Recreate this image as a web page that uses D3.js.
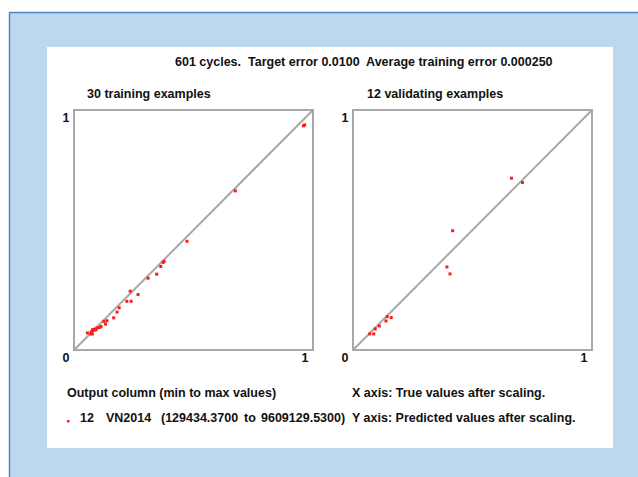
<!DOCTYPE html>
<html>
<head>
<meta charset="utf-8">
<script src="https://cdn.jsdelivr.net/npm/d3@7"></script>
<style>
  body { margin: 0; background: #fff; }
  text { font-family: "Liberation Sans", Arial, sans-serif; font-weight: bold; fill: #111; white-space: pre; }
</style>
</head>
<body>
<div id="chart"></div>
<script>
const width = 638;
const height = 477;

// [true, predicted] after scaling
const trainPoints = [
  [0.965, 0.938], [0.960, 0.934], [0.675, 0.663], [0.473, 0.453],
  [0.377, 0.369], [0.373, 0.365], [0.363, 0.348], [0.346, 0.316],
  [0.310, 0.299], [0.235, 0.245], [0.268, 0.231], [0.221, 0.203],
  [0.239, 0.203], [0.189, 0.176], [0.180, 0.158], [0.166, 0.134],
  [0.138, 0.122], [0.125, 0.119], [0.132, 0.108], [0.113, 0.098],
  [0.107, 0.094], [0.096, 0.092], [0.086, 0.087], [0.082, 0.082],
  [0.078, 0.085], [0.092, 0.084], [0.072, 0.076], [0.070, 0.067],
  [0.077, 0.067], [0.056, 0.071]
];
const validPoints = [
  [0.663, 0.716], [0.709, 0.698], [0.417, 0.497], [0.393, 0.346],
  [0.406, 0.317], [0.143, 0.139], [0.160, 0.135], [0.138, 0.121],
  [0.110, 0.100], [0.093, 0.088], [0.070, 0.067], [0.087, 0.067]
];
const tickValues = [0, 1];
const titleText = "601 cycles.  Target error 0.0100  Average training error 0.000250";
const panelTitles = ["30 training examples", "12 validating examples"];
const footer1 = ["Output column (min to max values)", "X axis: True values after scaling."];
const footer2 = ["12", "VN2014", "(129434.3700", "to", "9609129.5300)", "Y axis: Predicted values after scaling."];

const fs = "12.5px";

const svg = d3.select("#chart").append("svg")
  .attr("width", width)
  .attr("height", height);

// blue frame around the white card
svg.append("rect").attr("x", 9).attr("y", 12).attr("width", width - 9).attr("height", height - 12)
  .attr("fill", "#bdd7ee");
svg.append("line").attr("x1", 9.5).attr("x2", 9.5).attr("y1", 12).attr("y2", height)
  .attr("stroke", "#4f86c6").attr("stroke-width", 1.5);
svg.append("line").attr("x1", 9).attr("x2", width).attr("y1", 12.5).attr("y2", 12.5)
  .attr("stroke", "#4f86c6").attr("stroke-width", 1.5);
svg.append("rect").attr("x", 47).attr("y", 47).attr("width", 566).attr("height", 401)
  .attr("fill", "#fff");

svg.append("text").attr("x", 175).attr("y", 66).style("font-size", fs).text(titleText);

const panels = [
  { data: trainPoints, x0: 74, title: panelTitles[0], tx: 87 },
  { data: validPoints, x0: 353, title: panelTitles[1], tx: 367 }
];

panels.forEach(p => {
  const x = d3.scaleLinear().domain([0, 1]).range([p.x0, p.x0 + 239]);
  const y = d3.scaleLinear().domain([0, 1]).range([350, 110]);
  const g = svg.append("g");

  g.append("text").attr("x", p.tx).attr("y", 98).style("font-size", fs).text(p.title);

  g.append("rect")
    .attr("x", x(0)).attr("y", y(1))
    .attr("width", x(1) - x(0)).attr("height", y(0) - y(1))
    .attr("fill", "none").attr("stroke", "#a8a8a8").attr("stroke-width", 2);

  g.append("line")
    .attr("x1", x(0)).attr("y1", y(0)).attr("x2", x(1)).attr("y2", y(1))
    .attr("stroke", "#a8a8a8").attr("stroke-width", 2);

  // tick labels
  g.selectAll(".xt").data(tickValues).enter().append("text")
    .attr("x", d => x(d) - 8).attr("y", y(0) + 12)
    .attr("text-anchor", "middle").style("font-size", fs)
    .text(d => d);
  g.append("text")
    .attr("x", x(0) - 8).attr("y", y(1) + 12)
    .attr("text-anchor", "middle").style("font-size", fs)
    .text(tickValues[1]);

  g.selectAll(".pt").data(p.data).enter().append("rect")
    .attr("x", d => x(d[0]) - 1.5).attr("y", d => y(d[1]) - 1.5)
    .attr("width", 3).attr("height", 3)
    .attr("fill", "#ff1a1a");
});

// footer
svg.append("text").attr("x", 67).attr("y", 397).style("font-size", fs).text(footer1[0]);
svg.append("text").attr("x", 352).attr("y", 397).style("font-size", fs).text(footer1[1]);

svg.append("rect").attr("x", 67).attr("y", 420).attr("width", 2.5).attr("height", 2.5).attr("fill", "#ff1a1a");
const f2x = [80, 106, 161, 244, 261, 352];
footer2.forEach((t, i) => {
  svg.append("text").attr("x", f2x[i]).attr("y", 422).style("font-size", fs).text(t);
});
</script>
</body>
</html>
